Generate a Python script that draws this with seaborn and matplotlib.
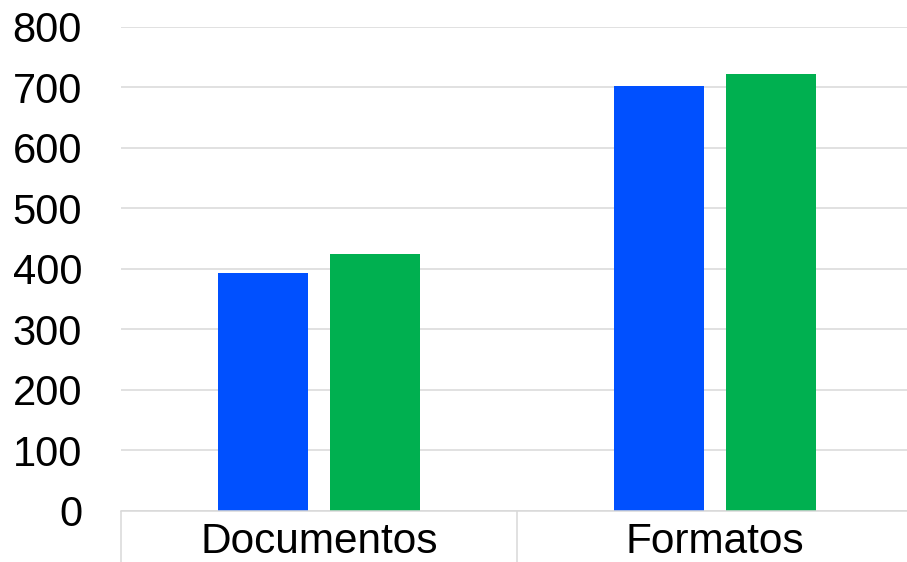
import pandas as pd
import seaborn as sns
import matplotlib.pyplot as plt

# data
categories = ["Documentos", "Formatos"]
series_names = ["Serie 1", "Serie 2"]
serie1 = [393, 702]
serie2 = [425, 722]
colors = ["#0050FF", "#00B050"]

df = pd.DataFrame({
    "categoria": categories * 2,
    "serie": [series_names[0]] * 2 + [series_names[1]] * 2,
    "valor": serie1 + serie2,
})

sns.set_style("white")
plt.rcParams['font.family'] = ['Liberation Sans', 'DejaVu Sans']

fig = plt.figure(figsize=(9.07, 5.62), dpi=100)
# axes runs past the right edge like in the source
ax = fig.add_axes([121 / 907, (562 - 510.7) / 562, 792 / 907, (510.7 - 27) / 562])

sns.barplot(data=df, x="categoria", y="valor", hue="serie", palette=colors,
            saturation=1, width=0.568, gap=0.2, linewidth=0, legend=False, ax=ax)

ax.set_xlim(-0.5, 1.5)
ax.set_ylim(0, 800)
ax.set_yticks(range(0, 801, 100))
ax.set_xlabel("")
ax.set_ylabel("")

# gridlines
ax.yaxis.grid(True, color="#d9d9d9", linewidth=1.1)
ax.set_axisbelow(True)

for s in ["top", "right", "left"]:
    ax.spines[s].set_visible(False)
ax.spines["bottom"].set_color("#d9d9d9")
ax.spines["bottom"].set_linewidth(1.1)

# category separators below the axis
ax.set_xticks([-0.5, 0.5, 1.5], minor=True)
ax.tick_params(axis="x", which="minor", bottom=True, length=37, width=1.1,
               color="#d9d9d9", direction="out")
ax.tick_params(axis="x", which="major", length=0, labelsize=30.5, pad=8,
               labelcolor="black")
ax.tick_params(axis="y", length=0, labelsize=30, pad=28, labelcolor="black")

fig.savefig("out.png", dpi=100)
